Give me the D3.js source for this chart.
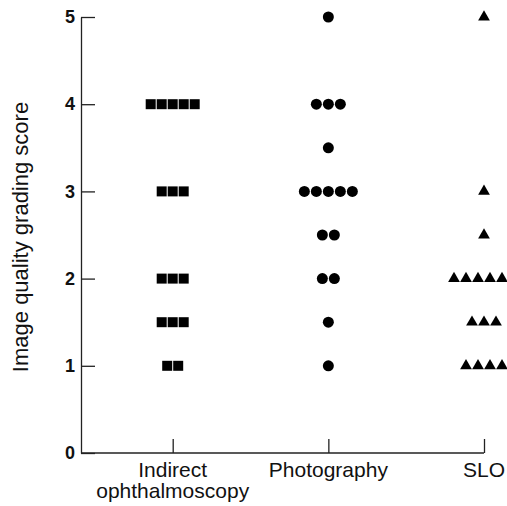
<!DOCTYPE html>
<html>
<head>
<meta charset="utf-8">
<script src="https://cdn.jsdelivr.net/npm/d3@7"></script>
<style>
  body { margin: 0; background: #fff; }
  text { font-family: "Liberation Sans", Arial, Helvetica, sans-serif; fill: #111; }
</style>
</head>
<body>
<div id="chart"></div>
<script>
// categories and the score of every image in each group
let categories = ["Indirect ophthalmoscopy", "Photography", "SLO"];
let indirectScores = [4, 4, 4, 4, 4, 3, 3, 3, 2, 2, 2, 1.5, 1.5, 1.5, 1, 1];
let photoScores = [5, 4, 4, 4, 3.5, 3, 3, 3, 3, 3, 2.5, 2.5, 2, 2, 1.5, 1];
let sloScores = [5, 3, 2.5, 2, 2, 2, 2, 2, 2, 1.5, 1.5, 1.5, 1, 1, 1, 1];
let yTicks = [0, 1, 2, 3, 4, 5];

let svgWidth = 507;
let svgHeight = 506;
let margin = { top: 17, left: 81 };

let svg = d3.select("#chart")
            .append("svg")
            .attr("width", svgWidth)
            .attr("height", svgHeight);

let xScale = d3.scalePoint()
    .domain(categories)
    .range([172.7, 484]);
let yScale = d3.scaleLinear()
    .domain([0, 5])
    .range([453, 17]);

// axes, ticks pointing inwards
let leftAxis = d3.axisLeft(yScale)
    .tickValues(yTicks)
    .tickFormat(d3.format("d"))
    .tickSizeInner(-14)
    .tickSizeOuter(0)
    .tickPadding(6);
let yAxisG = svg.append("g")
    .attr("transform", `translate(${margin.left}, 0)`)
    .call(leftAxis);
yAxisG.selectAll("text")
    .style("font-size", "18px")
    .style("font-weight", "bold");

let bottomAxis = d3.axisBottom(xScale)
    .tickSizeInner(-14)
    .tickSizeOuter(0)
    .tickFormat("");
let xAxisG = svg.append("g")
    .attr("transform", `translate(0, ${yScale(0)})`)
    .call(bottomAxis);
xAxisG.select(".domain").remove();
xAxisG.append("line")
    .attr("x1", margin.left)
    .attr("x2", xScale(categories[2]))
    .attr("stroke", "currentColor");

svg.selectAll(".domain, .tick line, line")
    .attr("stroke", "#222")
    .attr("stroke-width", 1.3);

// category labels (first one on two lines)
categories.forEach(function(c, i) {
    let words = i === 0 ? ["Indirect", "ophthalmoscopy"] : [c];
    words.forEach(function(w, j) {
        svg.append("text")
            .attr("text-anchor", "middle")
            .attr("x", xScale(c))
            .attr("y", 477 + j * 21)
            .style("font-size", "21px")
            .text(w);
    });
});

// y label
svg.append("text")
    .attr("transform", `translate(28, ${yScale(2.5) + 2}) rotate(-90)`)
    .attr("text-anchor", "middle")
    .style("font-size", "22px")
    .text("Image quality grading score");

// markers, spread side by side where scores repeat
let groups = [
    { name: categories[0], scores: indirectScores, symbol: d3.symbolSquare, size: 100, step: 11 },
    { name: categories[1], scores: photoScores, symbol: d3.symbolCircle, size: 95, step: 12 },
    { name: categories[2], scores: sloScores, symbol: d3.symbolTriangle, size: 60, step: 12 }
];

groups.forEach(function(g) {
    let counts = d3.rollup(g.scores, v => v.length, d => d);
    let seen = new Map();
    let points = g.scores.map(function(s) {
        let i = seen.get(s) || 0;
        seen.set(s, i + 1);
        let n = counts.get(s);
        return { score: s, offset: (i - (n - 1) / 2) * g.step };
    });
    svg.append("g")
        .selectAll("path")
        .data(points)
        .enter()
        .append("path")
        .attr("d", d3.symbol().type(g.symbol).size(g.size))
        .attr("transform", d => `translate(${xScale(g.name) + d.offset}, ${yScale(d.score)})`)
        .attr("fill", "#000");
});
</script>
</body>
</html>
